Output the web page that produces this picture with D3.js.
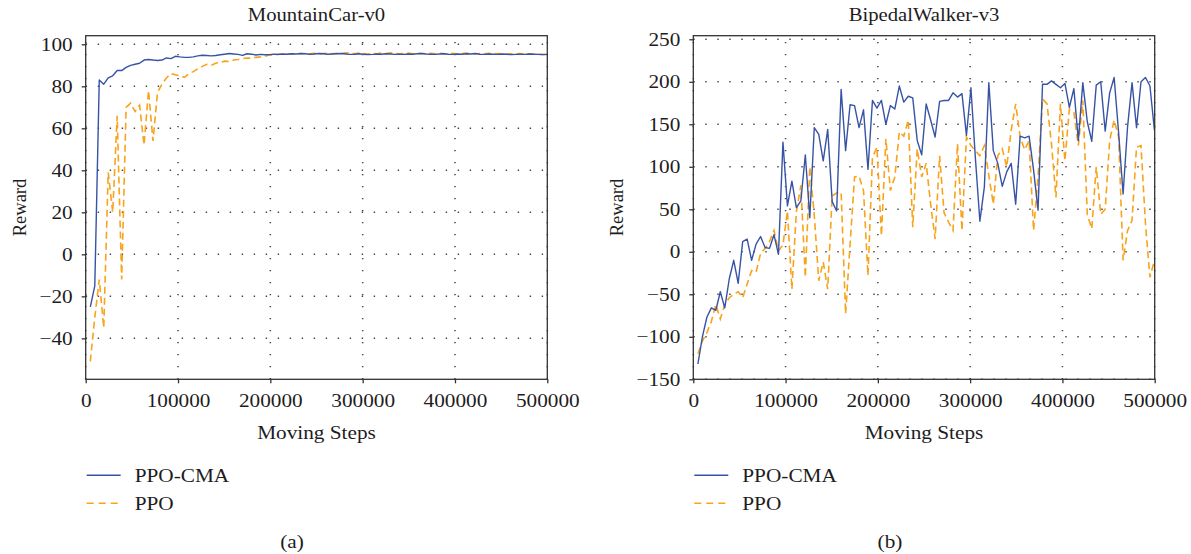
<!DOCTYPE html>
<html>
  <head>
    <script src="https://cdn.jsdelivr.net/npm/d3@7/dist/d3.min.js" charset="utf-8"></script>
    <style>
      body { margin: 0; background: #fff; }
      text { font-family: "Liberation Serif", "Times New Roman", serif; fill: #1e1c1d; }
    </style>
  </head>
  <body>
    <svg id="chart"></svg>
    <script>
      // moving steps shared by all series
      const steps = d3.range(5000, 500001, 4850)

      // MountainCar-v0
      const mcCma = [-25, -15, 83, 81, 84, 85, 87.5, 87.5, 89, 90,
        90.5, 91, 92.5, 92.8, 92.5, 92.3, 92.5, 93.5, 93.2, 94.3,
        94, 93.8, 93.8, 94, 94.5, 94.8, 94.7, 94.5, 94.7, 95,
        95.3, 95.6, 95.4, 95.2, 94.7, 95.5, 95.3, 94.9, 95.2, 95,
        95.1, 95.3, 95.2, 95.4, 95.3, 95.5, 95.4, 95.6, 95.5, 95.3,
        95.4, 95.6, 95.5, 95.3, 95.4, 95.5, 95.6, 95.4, 95.2, 95.3,
        95.5, 95.3, 95.1, 95.2, 95.4, 95.3, 95.5, 95.4, 95.2, 95.3,
        95.2, 95.4, 95.3, 95.5, 95.6, 95.4, 95.3, 95.2, 95.4, 95.5,
        95.3, 95.2, 95.4, 95.3, 95.5, 95.4, 95.6, 95.3, 95.2, 95.4,
        95.3, 95.2, 95.4, 95.3, 95.1, 95.2, 95.3, 95.2, 95.4, 95.3,
        95.2, 95.1, 95.2]
      const mcPpo = [-51, -30, -12, -35, 39, 20, 66, -12, 70, 72,
        68, 71, 52, 78, 54, 77, 81, 84, 86, 85.5,
        85, 84.3, 86, 87, 88.3, 89.5, 90.5, 90, 91, 91.4,
        92, 91.8, 92.5, 92.8, 93.2, 93.5, 93.4, 93.8, 94, 94.3,
        94.9, 95, 95.2, 95.4, 95.3, 95.5, 95.4, 95.6, 95.5, 95.5,
        95.7, 95.4, 95.6, 95.8, 95.5, 95.7, 95.6, 95.9, 96, 95.5,
        95.8, 95.6, 95.4, 95.7, 95.5, 95.8, 95.6, 95.9, 95.7, 95.5,
        95.6, 95.8, 95.5, 95.7, 95.6, 95.4, 95.7, 95.5, 95.8, 95.6,
        95.5, 95.7, 95.4, 95.6, 95.8, 95.5, 95.4, 95.6, 95.5, 95.7,
        95.4, 95.6, 95.5, 95.3, 95.5, 95.4, 95.6, 95.3, 95.5, 95.4,
        95.3, 95.2, 95.1]

      // BipedalWalker-v3
      const bwCma = [-132, -100, -77, -66, -69, -47, -66, -32, -10, -37,
        12, 15, -10, 9, 18, 5, 4, 20, -3, 129,
        54, 83, 52, 60, 114, 40, 146, 138, 107, 144,
        59, 48, 191, 119, 173, 172, 146, 167, 97, 178,
        169, 178, 150, 172, 168, 195, 176, 183, 181, 131,
        114, 174, 155, 135, 177, 178, 178, 187, 182, 186,
        137, 193, 110, 36, 76, 199, 119, 104, 77, 94,
        104, 56, 136, 134, 136, 96, 49, 197, 197, 201,
        197, 193, 198, 170, 192, 131, 199, 153, 130, 196,
        200, 142, 187, 205, 140, 68, 147, 199, 146, 200,
        205, 195, 143]
      const bwPpo = [-120, -105, -95, -82, -62, -79, -62, -54, -50, -47,
        -54, -38, -22, -24, -2, 4, 12, 25, 1, 8,
        48, -44, 47, 78, -30, 100, 43, -34, -12, -44,
        66, 69, 70, -73, 9, 88, 89, 72, -28, 111,
        123, 19, 133, 72, 88, 141, 136, 155, 29, 121,
        88, 104, 56, 15, 113, 46, 35, 25, 127, 25,
        135, 125, 119, 113, 125, 90, 56, 113, 121, 100,
        143, 174, 135, 120, 131, 25, 88, 180, 174, 127,
        64, 174, 107, 168, 164, 125, 178, 44, 27, 100,
        44, 50, 131, 155, 135, -10, 25, 37, 123, 125,
        33, -30, -10]

      const xTicks = [0, 100000, 200000, 300000, 400000, 500000]
      const mcTicks = [-40, -20, 0, 20, 40, 60, 80, 100]
      const bwTicks = [-150, -100, -50, 0, 50, 100, 150, 200, 250]
      const seriesNames = ["PPO-CMA", "PPO"]

      const blue = "#3753a5", orange = "#f9a31a"
      const sx = 1.15  // the figure's lettering is set wide

      const svg = d3.select("#chart").attr("width", 1191).attr("height", 554)

      function stretch(sel) {
        sel.each(function() {
          const t = d3.select(this)
          const x = +t.attr("x") || 0, y = +t.attr("y") || 0
          t.attr("x", null).attr("y", null)
            .attr("transform", `translate(${x},${y}) scale(${sx},1)`)
        })
      }

      function panel(p) {
        const w = p.right - p.left, h = p.bottom - p.top
        const x = d3.scaleLinear().domain([0, 500000]).range([0, w])
        const y = d3.scaleLinear().domain(p.yDomain).range([h, 0])
        const g = svg.append("g").attr("transform", `translate(${p.left},${p.top})`)

        // dotted grid
        g.append("g").selectAll("line").data(p.yTicks).enter().append("line")
          .attr("x1", 0).attr("x2", w).attr("y1", d => y(d)).attr("y2", d => y(d))
          .attr("stroke", "#444").attr("stroke-width", 1.5).attr("stroke-dasharray", "1.4,10.6")
        g.append("g").selectAll("line").data(xTicks).enter().append("line")
          .attr("x1", d => x(d)).attr("x2", d => x(d)).attr("y1", h).attr("y2", 0)
          .attr("stroke", "#444").attr("stroke-width", 1.5).attr("stroke-dasharray", "1.4,10.6")

        const line = d3.line().x((d, i) => x(steps[i])).y(d => y(d))
        g.append("path").attr("d", line(p.ppo)).attr("fill", "none")
          .attr("stroke", orange).attr("stroke-width", 1.6).attr("stroke-dasharray", "7,4")
        g.append("path").attr("d", line(p.cma)).attr("fill", "none")
          .attr("stroke", blue).attr("stroke-width", 1.4).attr("stroke-linejoin", "round")

        const xAxis = g.append("g").attr("transform", `translate(0,${h})`)
          .call(d3.axisBottom(x).tickValues(xTicks).tickFormat(d3.format("d"))
            .tickSize(4).tickSizeOuter(0).tickPadding(11))
        const yAxis = g.append("g")
          .call(d3.axisLeft(y).tickValues(p.yTicks).tickFormat(d3.format("d"))
            .tickSize(4).tickSizeOuter(0).tickPadding(9))
        ;[xAxis, yAxis].forEach(a => {
          a.select(".domain").remove()
          a.selectAll("line").attr("stroke", "#333").attr("stroke-width", 1.3)
          a.selectAll("text").attr("font-size", 18.5).attr("fill", "#1e1c1d")
            .attr("font-family", "Liberation Serif").call(stretch)
        })

        g.append("rect").attr("width", w).attr("height", h).attr("fill", "none")
          .attr("stroke", "#333").attr("stroke-width", 1.3)

        svg.append("text").attr("x", p.left + w / 2).attr("y", 21)
          .attr("text-anchor", "middle").attr("font-size", 18).text(p.title).call(stretch)
        svg.append("text").attr("x", p.left + w / 2).attr("y", 439)
          .attr("text-anchor", "middle").attr("font-size", 18.5).text("Moving Steps").call(stretch)
        svg.append("text").attr("transform", `translate(${p.rewardX},${p.top + h / 2}) rotate(-90)`)
          .attr("text-anchor", "middle").attr("font-size", 18.5).text("Reward")

        // legend
        const lg = svg.append("g").attr("transform", `translate(${p.left},475.3)`)
        seriesNames.forEach((name, i) => {
          lg.append("line").attr("x1", 1).attr("x2", 35).attr("y1", i * 28).attr("y2", i * 28)
            .attr("stroke", i ? orange : blue).attr("stroke-width", 1.4)
            .attr("stroke-dasharray", i ? "7,5" : null)
          lg.append("text").attr("x", 49).attr("y", i * 28 + 6.4)
            .attr("font-size", 18.5).text(name).call(stretch)
        })

        svg.append("text").attr("x", p.labelX).attr("y", 548)
          .attr("text-anchor", "middle").attr("font-size", 18.5).text(p.label).call(stretch)
      }

      panel({left: 85.7, right: 547.3, top: 35.7, bottom: 379.3, yDomain: [-59.5, 104.1],
        yTicks: mcTicks, cma: mcCma, ppo: mcPpo, title: "MountainCar-v0",
        rewardX: 26, label: "(a)", labelX: 292})
      panel({left: 693.3, right: 1154.7, top: 35.7, bottom: 379.3, yDomain: [-150, 254.2],
        yTicks: bwTicks, cma: bwCma, ppo: bwPpo, title: "BipedalWalker-v3",
        rewardX: 623, label: "(b)", labelX: 890})
    </script>
  </body>
</html>
